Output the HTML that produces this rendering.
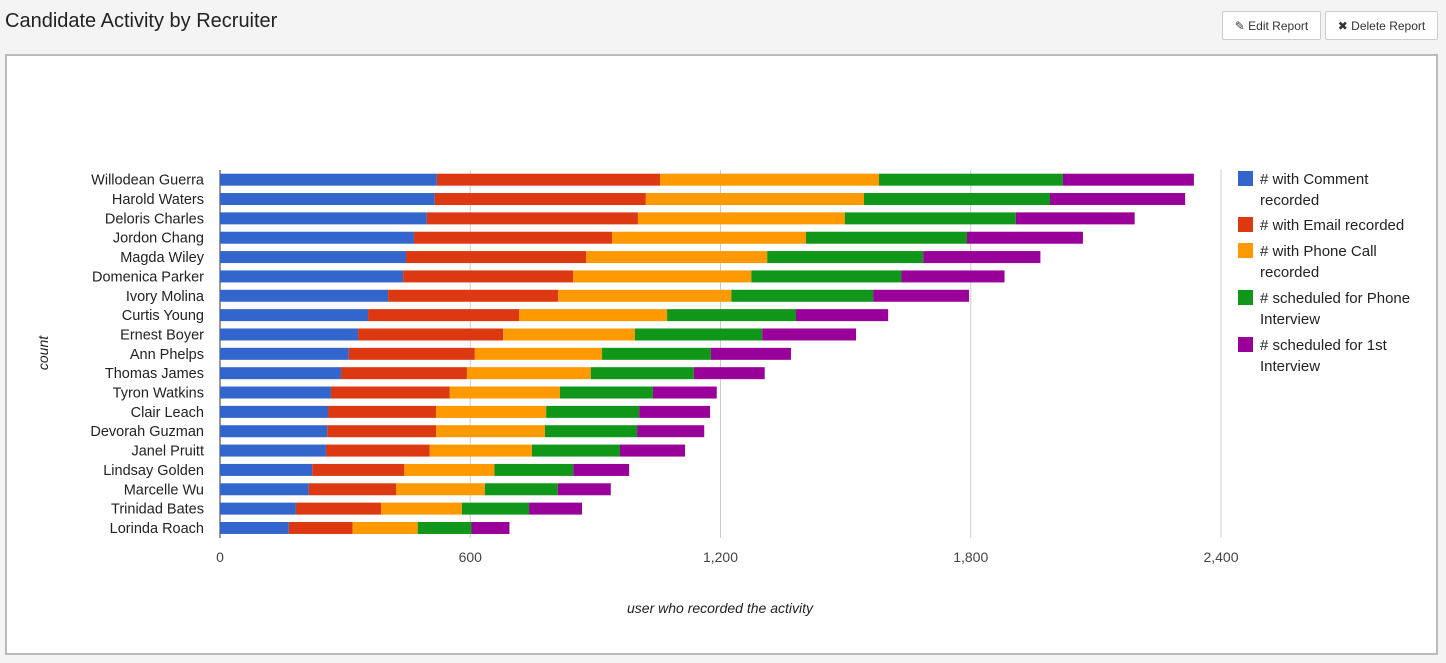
<!DOCTYPE html>
<html><head><meta charset="utf-8"><style>
body{margin:0;background:#f4f4f4;width:1446px;height:663px;overflow:hidden;font-family:"Liberation Sans",sans-serif;}
h1{position:absolute;left:5px;top:10px;margin:0;font-size:20px;font-weight:normal;color:#222;}
.btn{position:absolute;top:11px;height:29px;background:#fff;border:1px solid #ccc;border-radius:2px;font-size:12px;color:#333;line-height:29px;text-align:center;box-sizing:border-box;}
#panel{position:absolute;left:5px;top:54px;width:1433px;height:601px;background:#fff;border:2px solid #bbb;box-sizing:border-box;}
</style></head><body>
<h1>Candidate Activity by Recruiter</h1>
<div class="btn" style="left:1222px;width:99px">&#9998; Edit Report</div>
<div class="btn" style="left:1325px;width:113px">&#10006; Delete Report</div>
<div id="panel"></div>
<svg id="chart" width="1446" height="663" style="position:absolute;left:0;top:0"></svg>
<script>
const categories=["Willodean Guerra","Harold Waters","Deloris Charles","Jordon Chang","Magda Wiley","Domenica Parker","Ivory Molina","Curtis Young","Ernest Boyer","Ann Phelps","Thomas James","Tyron Watkins","Clair Leach","Devorah Guzman","Janel Pruitt","Lindsay Golden","Marcelle Wu","Trinidad Bates","Lorinda Roach"];
const seriesNames=["# with Comment recorded","# with Email recorded","# with Phone Call recorded","# scheduled for Phone Interview","# scheduled for 1st Interview"];
const comment=[520,515,496,465,446,439,403,355,331,309,290,266,259,257,254,221,213,182,165];
const email=[535,506,506,475,432,408,408,362,348,302,302,285,259,261,249,221,209,204,153];
const phone=[525,523,496,465,434,427,415,355,316,305,297,264,264,261,245,216,213,194,156];
const phoneInt=[441,446,410,386,374,360,340,309,305,261,247,223,223,221,211,189,175,161,129];
const firstInt=[314,324,285,278,281,247,230,221,225,192,170,153,170,161,156,134,127,127,91];
const tickLabels=["0","600","1,200","1,800","2,400"];
const tickValues=[0,600,1200,1800,2400];
const colors=["#3366cc","#dc3912","#ff9900","#109618","#990099"];
const series=[comment,email,phone,phoneInt,firstInt];
const NS="http://www.w3.org/2000/svg",svg=document.getElementById('chart');
const x0=220,x1=1221,xMax=2400,yTop=170,step=19.35,bh=12;
const xs=v=>x0+v/xMax*(x1-x0);
const yc=i=>yTop+step*(i+0.5);
function el(t,a,p){const e=document.createElementNS(NS,t);for(const k in a)e.setAttribute(k,a[k]);(p||svg).appendChild(e);return e;}
tickValues.forEach((v,i)=>{
 if(i>0){const g=el('line',{x1:xs(v),x2:xs(v),y1:170,y2:538,stroke:'#ccc'});
 
 }
 const t=el('text',{x:xs(v),y:562,'text-anchor':'middle','font-size':14,fill:'#444'});t.textContent=tickLabels[i];
 
 
});
const ax=el('line',{x1:x0,x2:x0,y1:170,y2:538,stroke:'#333'});


categories.forEach((c,i)=>{
 const t=el('text',{x:204,y:yc(i)+5,'text-anchor':'end','font-size':14.5,fill:'#222'});t.textContent=c;
 
 
 let acc=0;
 series.forEach((s,j)=>{
  const r=el('rect',{x:xs(acc),y:yc(i)-bh/2,width:xs(acc+s[i])-xs(acc),height:bh,fill:colors[j]});
  
  
  acc+=s[i];
 });
});
const xt=el('text',{x:720,y:613,'text-anchor':'middle','font-size':14,'font-style':'italic',fill:'#222'});xt.textContent="user who recorded the activity";


const yt=el('text',{x:48,y:353,'text-anchor':'middle','font-size':14,'font-style':'italic',fill:'#222',transform:'rotate(-90 48 353)'});yt.textContent="count";


const legLines=[["# with Comment","recorded"],["# with Email recorded"],["# with Phone Call","recorded"],["# scheduled for Phone","Interview"],["# scheduled for 1st","Interview"]];
const legY=[171,217,243,290,337];
legLines.forEach((lines,j)=>{
 const g=el('g',{});
 
 
 el('rect',{x:1238,y:legY[j],width:15,height:15,fill:colors[j]},g);
 lines.forEach((l,k)=>{const t=el('text',{x:1260,y:legY[j]+13+k*21,'font-size':15,fill:'#222'},g);t.textContent=l;});
});
</script>
</body></html>
